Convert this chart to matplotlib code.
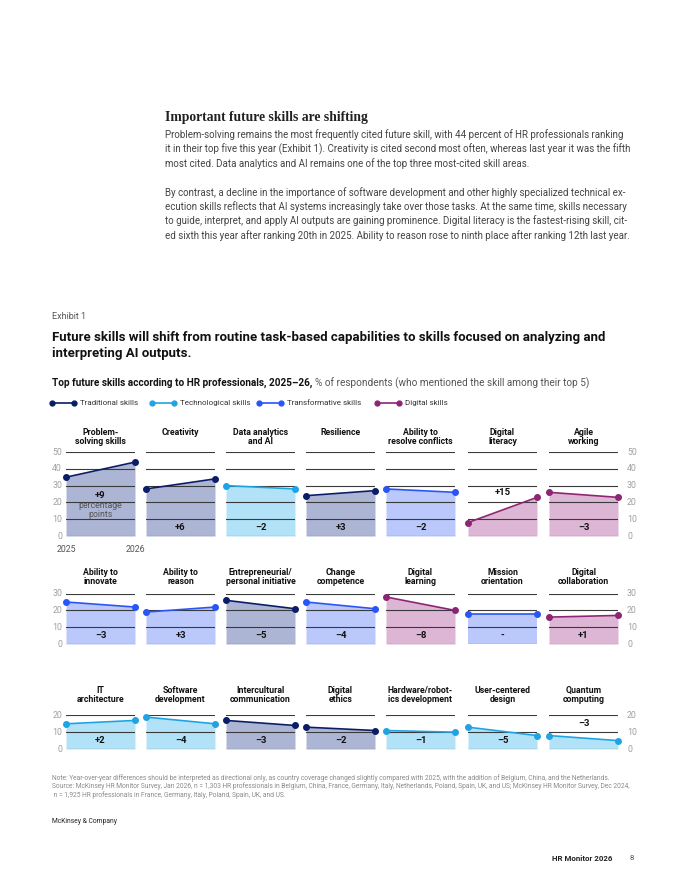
import matplotlib.pyplot as plt
from matplotlib.lines import Line2D

plt.rcParams['font.family'] = ['Roboto', 'DejaVu Sans']

# ---- data ----
row1_skills = ["Problem-\nsolving skills", "Creativity", "Data analytics\nand AI", "Resilience",
               "Ability to\nresolve conflicts", "Digital\nliteracy", "Agile\nworking"]
row1_2025 = [35, 28, 30, 24, 28, 8, 26]
row1_2026 = [44, 34, 28, 27, 26, 23, 23]
row1_delta = ["+9", "+6", "–2", "+3", "–2", "+15", "–3"]
row1_type = ["trad", "trad", "tech", "trad", "transf", "digital", "digital"]

row2_skills = ["Ability to\ninnovate", "Ability to\nreason", "Entrepreneurial/\npersonal initiative",
               "Change\ncompetence", "Digital\nlearning", "Mission\norientation", "Digital\ncollaboration"]
row2_2025 = [25, 19, 26, 25, 28, 18, 16]
row2_2026 = [22, 22, 21, 21, 20, 18, 17]
row2_delta = ["–3", "+3", "–5", "–4", "–8", "-", "+1"]
row2_type = ["transf", "transf", "trad", "transf", "digital", "transf", "digital"]

row3_skills = ["IT\narchitecture", "Software\ndevelopment", "Intercultural\ncommunication", "Digital\nethics",
               "Hardware/robot-\nics development", "User-centered\ndesign", "Quantum\ncomputing"]
row3_2025 = [15, 19, 17, 13, 11, 13, 8]
row3_2026 = [17, 15, 14, 11, 10, 8, 5]
row3_delta = ["+2", "–4", "–3", "–2", "–1", "–5", "–3"]
row3_type = ["tech", "tech", "trad", "trad", "tech", "tech", "tech"]

legend_types = ["trad", "tech", "transf", "digital"]
legend_labels = ["Traditional skills", "Technological skills", "Transformative skills", "Digital skills"]

# line colour, fill colour
colors = {
    "trad": ("#0b1d66", "#adb5d5"),
    "tech": ("#1fa4e3", "#b1e2f8"),
    "transf": ("#2a55f5", "#bac8fb"),
    "digital": ("#8b2574", "#dcb6d4"),
}

W, H = 680, 880
fig = plt.figure(figsize=(W / 100, H / 100), dpi=100)


def fx(x):
    return x / W


def fy(y):
    return 1 - y / H


def ftext(x, y, s, **kw):
    kw.setdefault('va', 'center')
    return fig.text(fx(x), fy(y), s, **kw)


# ---- article text ----
ftext(165, 117, "Important future skills are shifting", family=['Liberation Serif'],
      fontweight='bold', fontsize=9.8, color='#222222')
body = [
    "Problem-solving remains the most frequently cited future skill, with 44 percent of HR professionals ranking",
    "it in their top five this year (Exhibit 1). Creativity is cited second most often, whereas last year it was the fifth",
    "most cited. Data analytics and AI remains one of the top three most-cited skill areas.",
    None,
    "By contrast, a decline in the importance of software development and other highly specialized technical ex-",
    "ecution skills reflects that AI systems increasingly take over those tasks. At the same time, skills necessary",
    "to guide, interpret, and apply AI outputs are gaining prominence. Digital literacy is the fastest-rising skill, cit-",
    "ed sixth this year after ranking 20th in 2025. Ability to reason rose to ninth place after ranking 12th last year.",
]
y = 135
for line in body:
    if line is None:
        y += 15
        continue
    ftext(165, y, line, fontsize=7.0, color='#444444')
    y += 14.2

# ---- exhibit header ----
ftext(52, 316, "Exhibit 1", fontsize=6.5, color='#555555')
ftext(52, 337, "Future skills will shift from routine task-based capabilities to skills focused on analyzing and",
      fontsize=9.55, fontweight='bold', color='#111111')
ftext(52, 353, "interpreting AI outputs.", fontsize=9.55, fontweight='bold', color='#111111')

sub1 = ftext(52, 383, "Top future skills according to HR professionals, 2025–26,", fontsize=7.2,
             fontweight='bold', color='#111111')
renderer = fig.canvas.get_renderer()
bb = sub1.get_window_extent(renderer)
fig.text(bb.x1 / W + 0.004, fy(383), "% of respondents (who mentioned the skill among their top 5)",
         fontsize=7.2, color='#555555', va='center')

# legend
leg_x = [52, 152, 259, 377]
for lx, t, lab in zip(leg_x, legend_types, legend_labels):
    lc = colors[t][0]
    fig.add_artist(Line2D([fx(lx), fx(lx + 22)], [fy(403), fy(403)], color=lc, lw=1.2,
                          marker='o', markersize=3.5, transform=fig.transFigure))
    ftext(lx + 28, 403, lab, fontsize=5.8, color='#333333')

# ---- small multiples ----
rows = [
    (row1_skills, row1_2025, row1_2026, row1_delta, row1_type, 536, 50, 428),
    (row2_skills, row2_2025, row2_2026, row2_delta, row2_type, 644, 30, 568),
    (row3_skills, row3_2025, row3_2026, row3_delta, row3_type, 749, 20, 686),
]
unit = 1.68
panel_w = 69
lefts = [66, 146, 226, 306, 386, 468, 549]
label_y = {(0, 0): 24, (0, 5): 26, (2, 6): 15}

for r, (skills, v25, v26, deltas, types, base, ymax, ty) in enumerate(rows):
    h = ymax * unit
    for i in range(7):
        lc, fc = colors[types[i]]
        ax = fig.add_axes([fx(lefts[i]), fy(base), panel_w / W, h / H])
        ax.set_xlim(0, 1)
        ax.set_ylim(0, ymax)
        ax.axis('off')
        ax.fill_between([0, 1], [v25[i], v26[i]], 0, color=fc, lw=0, zorder=1)
        for g in range(0, ymax + 1, 10):
            ax.axhline(g, color='#3a3a3a', lw=0.8, zorder=2)
        ax.plot([0, 1], [v25[i], v26[i]], color=lc, lw=1.2, marker='o', markersize=4,
                zorder=3, clip_on=False)
        ly = label_y.get((r, i), 5)
        ax.text(0.5, ly, deltas[i], ha='center', va='center', fontsize=6.8,
                fontweight='bold', color='#111111', zorder=4)
        if (r, i) == (0, 0):
            ax.text(0.5, 15.5, "percentage\npoints", ha='center', va='center', fontsize=6.3,
                    color='#555555', linespacing=1.0, zorder=4)
        ftext(lefts[i] + panel_w / 2, ty, skills[i], ha='center', va='top', fontsize=6.3,
              fontweight='bold', color='#111111', linespacing=1.05)
    # y tick labels
    for g in range(0, ymax + 1, 10):
        yy = base - g * unit
        ftext(62, yy, str(g), ha='right', fontsize=6.3, color='#a0a0a0')
        ftext(627, yy, str(g), ha='left', fontsize=6.3, color='#a0a0a0')

ftext(lefts[0], 549, "2025", ha='center', fontsize=6.3, color='#555555')
ftext(lefts[0] + panel_w, 549, "2026", ha='center', fontsize=6.3, color='#555555')

# ---- notes ----
notes = [
    "Note: Year-over-year differences should be interpreted as directional only, as country coverage changed slightly compared with 2025, with the addition of Belgium, China, and the Netherlands.",
    "Source: McKinsey HR Monitor Survey, Jan 2026, n = 1,303 HR professionals in Belgium, China, France, Germany, Italy, Netherlands, Poland, Spain, UK, and US; McKinsey HR Monitor Survey, Dec 2024,",
    " n = 1,925 HR professionals in France, Germany, Italy, Poland, Spain, UK, and US.",
]
for k, line in enumerate(notes):
    ftext(52, 778 + 8.5 * k, line, fontsize=4.75, color='#8a8a8a')

ftext(52, 821, "McKinsey & Company", fontsize=4.9, color='#222222')
ftext(612, 858, "HR Monitor 2026", ha='right', fontsize=5.7, fontweight='bold', color='#222222')
ftext(632, 858, "8", ha='center', fontsize=5.7, color='#555555')

fig.savefig("out.png", dpi=100, facecolor='white')
